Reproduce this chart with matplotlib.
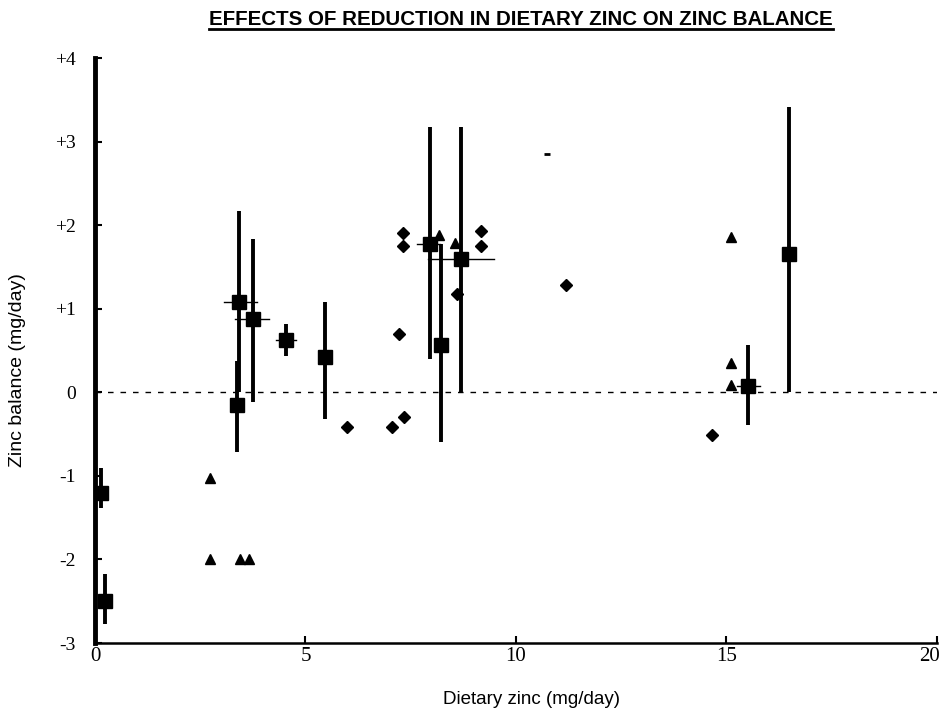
import matplotlib
matplotlib.use("Agg")
import matplotlib.pyplot as plt
import matplotlib.transforms as mtransforms
from matplotlib.lines import Line2D

# ---------------- data ----------------
# squares with error bars
sq_x    = [0.15, 0.25, 3.43, 3.75, 3.37, 4.54, 5.46, 7.96, 8.22, 8.69, 15.52, 16.49]
sq_y    = [-1.20, -2.50, 1.08, 0.88, -0.15, 0.62, 0.42, 1.77, 0.57, 1.59, 0.08, 1.65]
sq_ylo  = [-1.39, -2.77, 0.00, -0.11, -0.71, 0.43, -0.32, 0.40, -0.60, 0.00, -0.39, 0.00]
sq_yhi  = [-0.90, -2.18, 2.17, 1.84, 0.38, 0.82, 1.08, 3.18, 1.77, 3.17, 0.57, 3.41]
sq_xlo  = [0.15, 0.25, 3.06, 3.33, 3.37, 4.31, 5.46, 7.64, 8.22, 7.92, 15.26, 16.49]
sq_xhi  = [0.15, 0.25, 3.85, 4.13, 3.37, 4.77, 5.46, 8.19, 8.22, 9.48, 15.80, 16.49]

# diamonds
dm_x = [5.99, 7.32, 7.32, 9.16, 9.16, 8.61, 7.22, 7.34, 7.06, 11.18, 14.66]
dm_y = [-0.42, 1.91, 1.75, 1.93, 1.75, 1.18, 0.70, -0.29, -0.41, 1.28, -0.51]

# triangles
tr_x = [2.73, 2.73, 3.44, 3.67, 8.18, 8.55, 15.11, 15.10, 15.10]
tr_y = [-1.02, -1.99, -1.99, -1.99, 1.88, 1.79, 1.86, 0.35, 0.09]

# small stray mark
dash_x = [10.73]
dash_y = [2.85]

x_ticks = [0, 5, 10, 15, 20]
x_ticklabels = ["0", "5", "10", "15", "20"]
y_ticks = [-3, -2, -1, 0, 1, 2, 3, 4]
y_ticklabels = ["-3", "-2", "-1", "0", "+1", "+2", "+3", "+4"]

title = "EFFECTS OF REDUCTION IN DIETARY ZINC ON ZINC BALANCE"
xlabel = "Dietary zinc (mg/day)"
ylabel = "Zinc balance (mg/day)"

# ---------------- figure ----------------
fig = plt.figure(figsize=(9.43, 7.11), dpi=100)
ax = fig.add_axes([0.1007, 0.0956, 0.8929, 0.8228])
ax.set_xlim(0, 20)
ax.set_ylim(-3, 4)

# zero reference line
ax.plot([0, 20], [0, 0], ls=(0, (4, 5)), color="black", lw=1.0, zorder=1)

# error bars
for x, y, ylo, yhi, xlo, xhi in zip(sq_x, sq_y, sq_ylo, sq_yhi, sq_xlo, sq_xhi):
    ax.plot([x, x], [ylo, yhi], color="black", lw=2.8, solid_capstyle="butt", zorder=2)
    if xhi > xlo:
        ax.plot([xlo, xhi], [y, y], color="black", lw=1.0, zorder=2)

ax.plot(sq_x, sq_y, ls="none", marker="s", ms=9.5, color="black", zorder=3)
ax.plot(dm_x, dm_y, ls="none", marker="D", ms=6.5, color="black", zorder=3)
ax.plot(tr_x, tr_y, ls="none", marker="^", ms=7.5, color="black", zorder=3)
ax.plot(dash_x, dash_y, ls="none", marker="_", ms=4, mew=2, color="black", zorder=3)

# spines
for s in ["top", "right"]:
    ax.spines[s].set_visible(False)
ax.spines["left"].set_linewidth(3.5)
ax.spines["bottom"].set_linewidth(1.8)

ax.set_xticks(x_ticks)
ax.set_xticklabels(x_ticklabels, family="Liberation Serif", fontsize=15)
ax.set_yticks(y_ticks)
ax.set_yticklabels(y_ticklabels, family="Liberation Serif", fontsize=14)
ax.tick_params(axis="both", direction="in", length=5, width=1.5, color="black")
ax.tick_params(axis="y", pad=14)
ax.tick_params(axis="x", pad=3)

# shift the last x tick label left so it stays inside the figure
lab = ax.get_xticklabels()[-1]
lab.set_transform(lab.get_transform() +
                  mtransforms.ScaledTranslation(-7 / 100, 0, fig.dpi_scale_trans))

fig.text(0.564, 0.016, xlabel, ha="center", va="center",
         family="Liberation Sans", fontsize=13.5)
fig.text(0.019, 0.48, ylabel, ha="center", va="center", rotation=90,
         family="Liberation Sans", fontsize=14)

# title with underline
t = fig.text(0.5525, 0.973, title, ha="center", va="center",
             family="Liberation Sans", fontweight="bold", fontsize=14.8)
fig.canvas.draw()
bb = t.get_window_extent().transformed(fig.transFigure.inverted())
fig.add_artist(Line2D([bb.x0, bb.x1], [bb.y0 - 0.001, bb.y0 - 0.001],
                      transform=fig.transFigure, color="black", lw=2.0))

fig.savefig("out.png", dpi=100)
